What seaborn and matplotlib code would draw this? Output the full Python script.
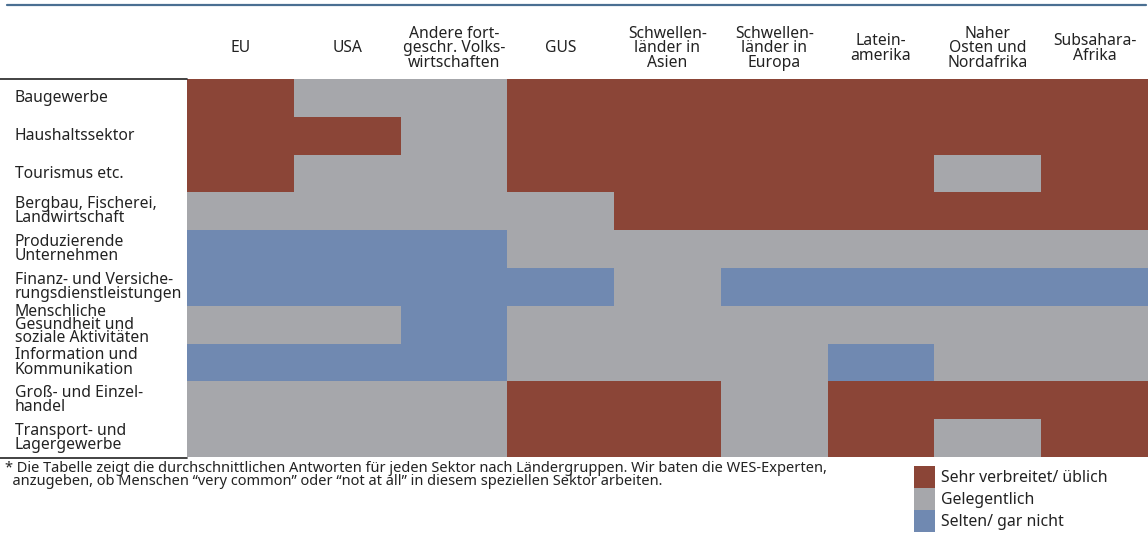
import numpy as np
import pandas as pd
import seaborn as sns
import matplotlib.pyplot as plt
from matplotlib.colors import ListedColormap
from matplotlib.patches import Patch
from matplotlib.lines import Line2D

# Ländergruppen (Spalten) und Sektoren (Zeilen)
regions = ["EU", "USA", "Andere fort-\ngeschr. Volks-\nwirtschaften", "GUS",
           "Schwellen-\nländer in\nAsien", "Schwellen-\nländer in\nEuropa",
           "Latein-\namerika", "Naher\nOsten und\nNordafrika", "Subsahara-\nAfrika"]
sectors = ["Baugewerbe", "Haushaltssektor", "Tourismus etc.",
           "Bergbau, Fischerei,\nLandwirtschaft", "Produzierende\nUnternehmen",
           "Finanz- und Versiche-\nrungsdienstleistungen",
           "Menschliche\nGesundheit und\nsoziale Aktivitäten",
           "Information und\nKommunikation", "Groß- und Einzel-\nhandel",
           "Transport- und\nLagergewerbe"]

# 0 = sehr verbreitet, 1 = gelegentlich, 2 = selten
baugewerbe     = [0, 1, 1, 0, 0, 0, 0, 0, 0]
haushalt       = [0, 0, 1, 0, 0, 0, 0, 0, 0]
tourismus      = [0, 1, 1, 0, 0, 0, 0, 1, 0]
bergbau        = [1, 1, 1, 1, 0, 0, 0, 0, 0]
produzierende  = [2, 2, 2, 1, 1, 1, 1, 1, 1]
finanz         = [2, 2, 2, 2, 1, 2, 2, 2, 2]
gesundheit     = [1, 1, 2, 1, 1, 1, 1, 1, 1]
information    = [2, 2, 2, 1, 1, 1, 2, 1, 1]
handel         = [1, 1, 1, 0, 0, 1, 0, 0, 0]
transport      = [1, 1, 1, 0, 0, 1, 0, 1, 0]

categories = ["Sehr verbreitet/ üblich", "Gelegentlich", "Selten/ gar nicht"]
colors = ["#8b4537", "#a6a7ab", "#7089b1"]

footnote = ("* Die Tabelle zeigt die durchschnittlichen Antworten für jeden Sektor nach Ländergruppen. "
            "Wir baten die WES-Experten,\n  anzugeben, ob Menschen \u201cvery common\u201d oder "
            "\u201cnot at all\u201d in diesem speziellen Sektor arbeiten.")

df = pd.DataFrame([baugewerbe, haushalt, tourismus, bergbau, produzierende,
                   finanz, gesundheit, information, handel, transport],
                  index=sectors, columns=regions)

sns.set_style("white")
plt.rcParams['font.family'] = ['Noto Sans', 'DejaVu Sans']

W, H = 1148, 534
fig = plt.figure(figsize=(W / 100, H / 100), dpi=100)
ax = fig.add_axes([187 / W, (H - 457) / H, (W - 187) / W, (457 - 79) / H])

sns.heatmap(df, ax=ax, cmap=ListedColormap(colors), vmin=-0.5, vmax=2.5,
            cbar=False, linewidths=0)

ax.xaxis.tick_top()
ax.tick_params(axis='x', length=0, pad=22, labelsize=11.3, colors='#222222')
ax.tick_params(axis='y', length=0, pad=124, labelsize=11.3, colors='#222222')
ax.set_xticklabels(regions, rotation=0)
ax.set_yticklabels(sectors, rotation=0)
for lab in ax.get_xticklabels():
    lab.set_va('center')
    lab.set_ha('center')
    lab.set_multialignment('center')
    lab.set_linespacing(0.86)
for lab in ax.get_yticklabels():
    lab.set_ha('left')
    lab.set_va('center')
    n = lab.get_text().count("\n")
    lab.set_linespacing(0.74 if n > 1 else 0.86)
ax.set_xlabel("")
ax.set_ylabel("")

# Linien
fig.add_artist(Line2D([7 / W, 1146 / W], [1 - 5 / H, 1 - 5 / H],
                      color="#4a6f92", lw=1.6))
for yy in (79, 457.5):
    fig.add_artist(Line2D([0, 187 / W], [1 - yy / H, 1 - yy / H],
                          color="#222222", lw=1.2))

fig.text(5 / W, 1 - 461 / H, footnote, va='top', ha='left', fontsize=10.5,
         color='#222222', linespacing=0.78)

handles = [Patch(facecolor=c, edgecolor='none') for c in colors]
fig.legend(handles, categories, loc='upper left',
           bbox_to_anchor=(914 / W, 1 - 466 / H), frameon=False,
           fontsize=11.4, handlelength=1.3, handleheight=1.76,
           labelspacing=0, handletextpad=0.38, borderpad=0, borderaxespad=0,
           labelcolor='#222222')

fig.savefig("out.png", dpi=100)
